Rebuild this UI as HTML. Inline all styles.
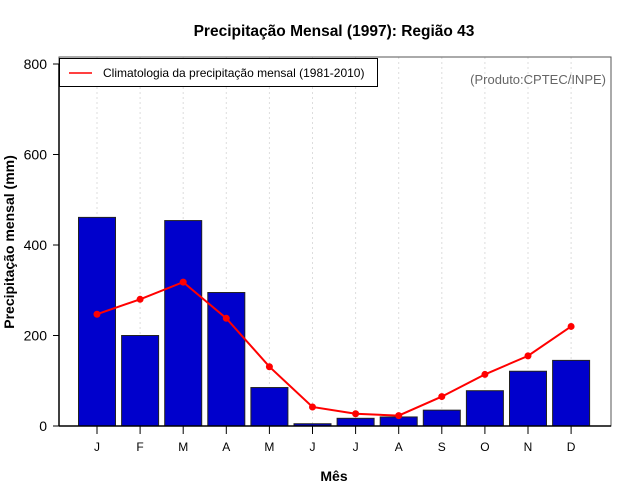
<!DOCTYPE html>
<html><head><meta charset="utf-8"><style>
body{margin:0;background:#fff;}
svg{display:block;font-family:"Liberation Sans",sans-serif;}
</style></head><body>
<svg id="c" width="640" height="500">
<text x="334" y="36" text-anchor="middle" font-size="15.5" font-weight="bold">Precipitação Mensal (1997): Região 43</text>
<text x="334" y="481" text-anchor="middle" font-size="14" font-weight="bold">Mês</text>
<text transform="translate(14,242) rotate(-90)" text-anchor="middle" font-size="14" font-weight="bold">Precipitação mensal (mm)</text>
<g id="grid"></g><g id="bars"></g><g id="line"></g><g id="axes"></g>
<g>
<rect x="59.5" y="58.5" width="318" height="28" fill="#fff" stroke="#000" stroke-width="1"/>
<line x1="69" y1="73" x2="92" y2="73" stroke="red" stroke-width="1.5"/>
<text x="103" y="77" font-size="12">Climatologia da precipitação mensal (1981-2010)</text>
</g>
<text x="606" y="84" text-anchor="end" font-size="13" fill="#666">(Produto:CPTEC/INPE)</text>
</svg>
<script>
const months=["J","F","M","A","M","J","J","A","S","O","N","D"];
const precip=[461,200,454,295,85,5,17,20,35,78,121,145];
const clim=[247,280,318,238,131,42,27,23,65,114,155,220];
const yTicks=[0,200,400,600,800];
const NS="http://www.w3.org/2000/svg";
const L=59,R=611,B=426,T=57;
const x=i=>97+i*43.1;
const y=v=>426-v*(362/800);
function mk(t,a,p){const e=document.createElementNS(NS,t);for(const k in a)e.setAttribute(k,a[k]);p.appendChild(e);return e;}
const g=document.getElementById('grid'),b=document.getElementById('bars'),ln=document.getElementById('line'),ax=document.getElementById('axes');
months.forEach((m,i)=>{
 const gl=mk('line',{x1:x(i),x2:x(i),y1:T,y2:B,stroke:'#ddd','stroke-dasharray':'2,3'},g);
 
 
});
precip.forEach((v,i)=>{
 const r=mk('rect',{x:x(i)-18.5,y:y(v),width:37,height:B-y(v),fill:'#0000cc',stroke:'#222','stroke-width':1},b);
 
 
});
const pl=mk('polyline',{points:clim.map((v,i)=>x(i)+','+y(v)).join(' '),fill:'none',stroke:'red','stroke-width':2},ln);


clim.forEach((v,i)=>{
 const c=mk('circle',{cx:x(i),cy:y(v),r:3.5,fill:'red'},ln);
 
 
});
const fr=mk('rect',{x:L,y:T,width:R-L,height:B-T,fill:'none',stroke:'#555','stroke-width':1},ax);


mk('line',{x1:L,x2:L,y1:y(800),y2:B,stroke:'#000','stroke-width':1.5},ax);
mk('line',{x1:L,x2:R,y1:B,y2:B,stroke:'#000','stroke-width':1.5},ax);
yTicks.forEach(v=>{
 mk('line',{x1:L-6,x2:L,y1:y(v),y2:y(v),stroke:'#000'},ax);
 const t=mk('text',{x:L-12,y:y(v)+5,'text-anchor':'end','font-size':14},ax);t.textContent=v;
 
 
});
months.forEach((m,i)=>{
 mk('line',{x1:x(i),x2:x(i),y1:B,y2:B+8,stroke:'#000'},ax);
 const t=mk('text',{x:x(i),y:451,'text-anchor':'middle','font-size':12},ax);t.textContent=m;
 
 
});
</script>
</body></html>
